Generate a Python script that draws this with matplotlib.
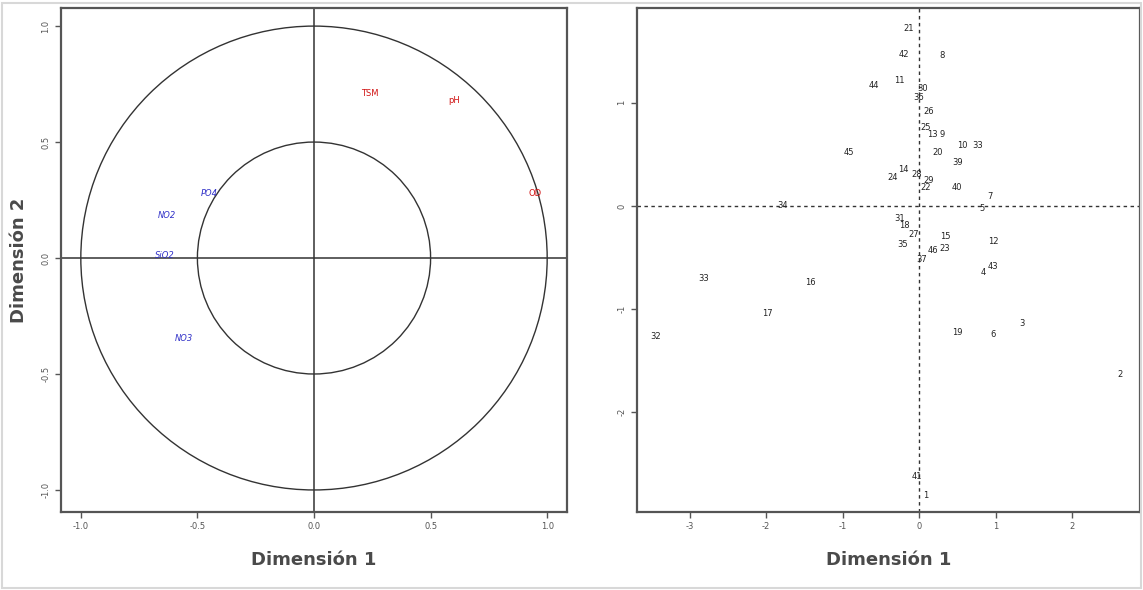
import numpy as np
import matplotlib.pyplot as plt
from matplotlib.patches import Circle, Rectangle

plt.rcParams['axes.unicode_minus'] = False

# ---- data: variables (correlation circle) ----
var_names = ["TSM", "pH", "OD", "PO4", "NO2", "SiO2", "NO3"]
var_x = [0.24, 0.60, 0.95, -0.45, -0.63, -0.64, -0.56]
var_y = [0.71, 0.68, 0.28, 0.28, 0.185, 0.01, -0.345]
var_group = ["r", "r", "r", "b", "b", "b", "b"]

# ---- data: individuals ----
ind_labels = ["21", "42", "8", "11", "44", "30", "36", "26", "25", "13", "9",
              "10", "33", "20", "39", "45", "24", "14", "28", "29", "22", "40",
              "7", "5", "34", "31", "18", "27", "35", "15", "12", "46", "23",
              "37", "4", "43", "33", "16", "17", "32", "3", "19", "6", "2",
              "41", "1"]
ind_x = [-0.14, -0.20, 0.30, -0.26, -0.59, 0.05, 0.00, 0.13, 0.08, 0.18, 0.30,
         0.56, 0.76, 0.24, 0.50, -0.92, -0.34, -0.21, -0.03, 0.12, 0.08, 0.50,
         0.93, 0.82, -1.79, -0.25, -0.19, -0.07, -0.22, 0.34, 0.97, 0.18, 0.34,
         0.04, 0.84, 0.97, -2.82, -1.42, -1.99, -3.45, 1.35, 0.50, 0.97, 2.63,
         -0.03, 0.09]
ind_y = [1.72, 1.47, 1.46, 1.22, 1.17, 1.14, 1.05, 0.92, 0.76, 0.69, 0.69,
         0.59, 0.59, 0.52, 0.42, 0.52, 0.28, 0.35, 0.30, 0.25, 0.18, 0.18,
         0.09, -0.03, 0.0, -0.12, -0.19, -0.28, -0.37, -0.30, -0.35, -0.43, -0.41,
         -0.52, -0.65, -0.59, -0.70, -0.74, -1.04, -1.27, -1.14, -1.23, -1.25, -1.64,
         -2.63, -2.81]

AXCOL = "#555555"
LABCOL = "#4a4a4a"

fig = plt.figure(figsize=(11.43, 5.90), dpi=100)
fig.patches.append(Rectangle((0.002, 0.003), 0.996, 0.992, transform=fig.transFigure,
                             fill=False, edgecolor="#d8d8d8", linewidth=1.5))

# ----------------- left panel -----------------
ax1 = fig.add_axes([61/1143, 1-512/590, 506/1143, 504/590])
ax1.set_xlim(-1.085, 1.085)
ax1.set_ylim(-1.095, 1.078)
ax1.add_patch(Circle((0, 0), 1.0, fill=False, edgecolor="#333333", linewidth=1.0))
ax1.add_patch(Circle((0, 0), 0.5, fill=False, edgecolor="#333333", linewidth=1.0))
ax1.axhline(0, color="#333333", linewidth=1.1)
ax1.axvline(0, color="#333333", linewidth=1.1)
for name, x, y, g in zip(var_names, var_x, var_y, var_group):
    if g == "r":
        ax1.text(x, y, name, color="#d01010", fontsize=6, ha="center", va="center")
    else:
        ax1.text(x, y, name, color="#3030c8", fontsize=6, ha="center", va="center",
                 style="italic")
ticks1 = [-1.0, -0.5, 0.0, 0.5, 1.0]
ax1.set_xticks(ticks1)
ax1.set_xticklabels(["%.1f" % t for t in ticks1])
ax1.set_yticks(ticks1)
ax1.set_yticklabels(["%.1f" % t for t in ticks1], rotation=90, va="center")
ax1.set_xlabel("Dimensión 1", fontsize=13, fontweight="bold", color=LABCOL, labelpad=14)
ax1.set_ylabel("Dimensión 2", fontsize=13, fontweight="bold", color=LABCOL, labelpad=10)

# ----------------- right panel -----------------
ax2 = fig.add_axes([637/1143, 1-512/590, 503/1143, 504/590])
ax2.set_xlim(-3.69, 2.89)
ax2.set_ylim(-2.97, 1.92)
ax2.axhline(0, color="#333333", linewidth=1.0, linestyle=(0, (2.5, 2.5)))
ax2.axvline(0, color="#333333", linewidth=1.0, linestyle=(0, (2.5, 2.5)))
for lab, x, y in zip(ind_labels, ind_x, ind_y):
    ax2.text(x, y, lab, fontsize=6, color="#222222", ha="center", va="center")
ax2.set_xticks([-3, -2, -1, 0, 1, 2])
ax2.set_yticks([-2, -1, 0, 1])
ax2.set_yticklabels(["-2", "-1", "0", "1"], rotation=90, va="center")
ax2.set_xlabel("Dimensión 1", fontsize=13, fontweight="bold", color=LABCOL, labelpad=14)

for ax in (ax1, ax2):
    for sp in ax.spines.values():
        sp.set_color(AXCOL)
        sp.set_linewidth(1.6)
    ax.tick_params(labelsize=6, colors=AXCOL, length=4, width=1.0)

fig.savefig("out.png", dpi=100)
